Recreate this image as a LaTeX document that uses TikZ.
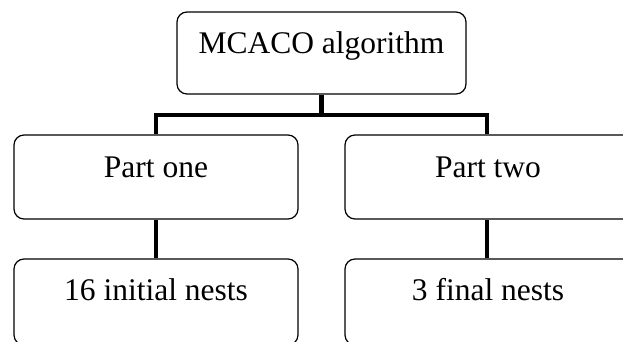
\documentclass[tikz,border=0pt]{standalone}
\usepackage{fontspec}
\setmainfont{Liberation Serif}
\begin{document}
\begin{tikzpicture}[x=1pt,y=-1pt,
  box/.style={draw=black,line width=1.2pt,rounded corners=10pt,minimum width=284pt,inner sep=0pt},
  lbl/.style={anchor=base,inner sep=0pt,font=\fontsize{31.5}{36}\selectfont},
  conn/.style={draw=black,line width=4.5pt}]
\useasboundingbox (0,0) rectangle (623,341);
\node[box,minimum width=289pt,minimum height=82pt] (top) at (321.5,53) {};
\node[box,minimum height=84pt] (p1) at (156,177) {};
\node[box,minimum width=300pt,minimum height=84pt] (p2) at (495,177) {};
\node[box,minimum height=86pt] (b1) at (156,302) {};
\node[box,minimum width=300pt,minimum height=86pt] (b2) at (495,302) {};
\node[lbl] (ttop) at (321.5,53.5) {MCACO algorithm};
\node[lbl] (tp1) at (156,177.5) {Part one};
\node[lbl] (tp2) at (488,177.5) {Part two};
\node[lbl] (tb1) at (156,300) {16 initial nests};
\node[lbl] (tb2) at (488,300) {3 final nests};
\coordinate (j) at (321.5,115);
\coordinate (r) at (487,115);
\draw[conn] (top.south) -- (j);
\draw[conn] (p1.north) -- (p1.north |- j) -- (r) -- (r |- p2.north);
\draw[conn] (p1.south) -- (b1.north);
\draw[conn] (r |- p2.south) -- (r |- b2.north);
\end{tikzpicture}
\end{document}
